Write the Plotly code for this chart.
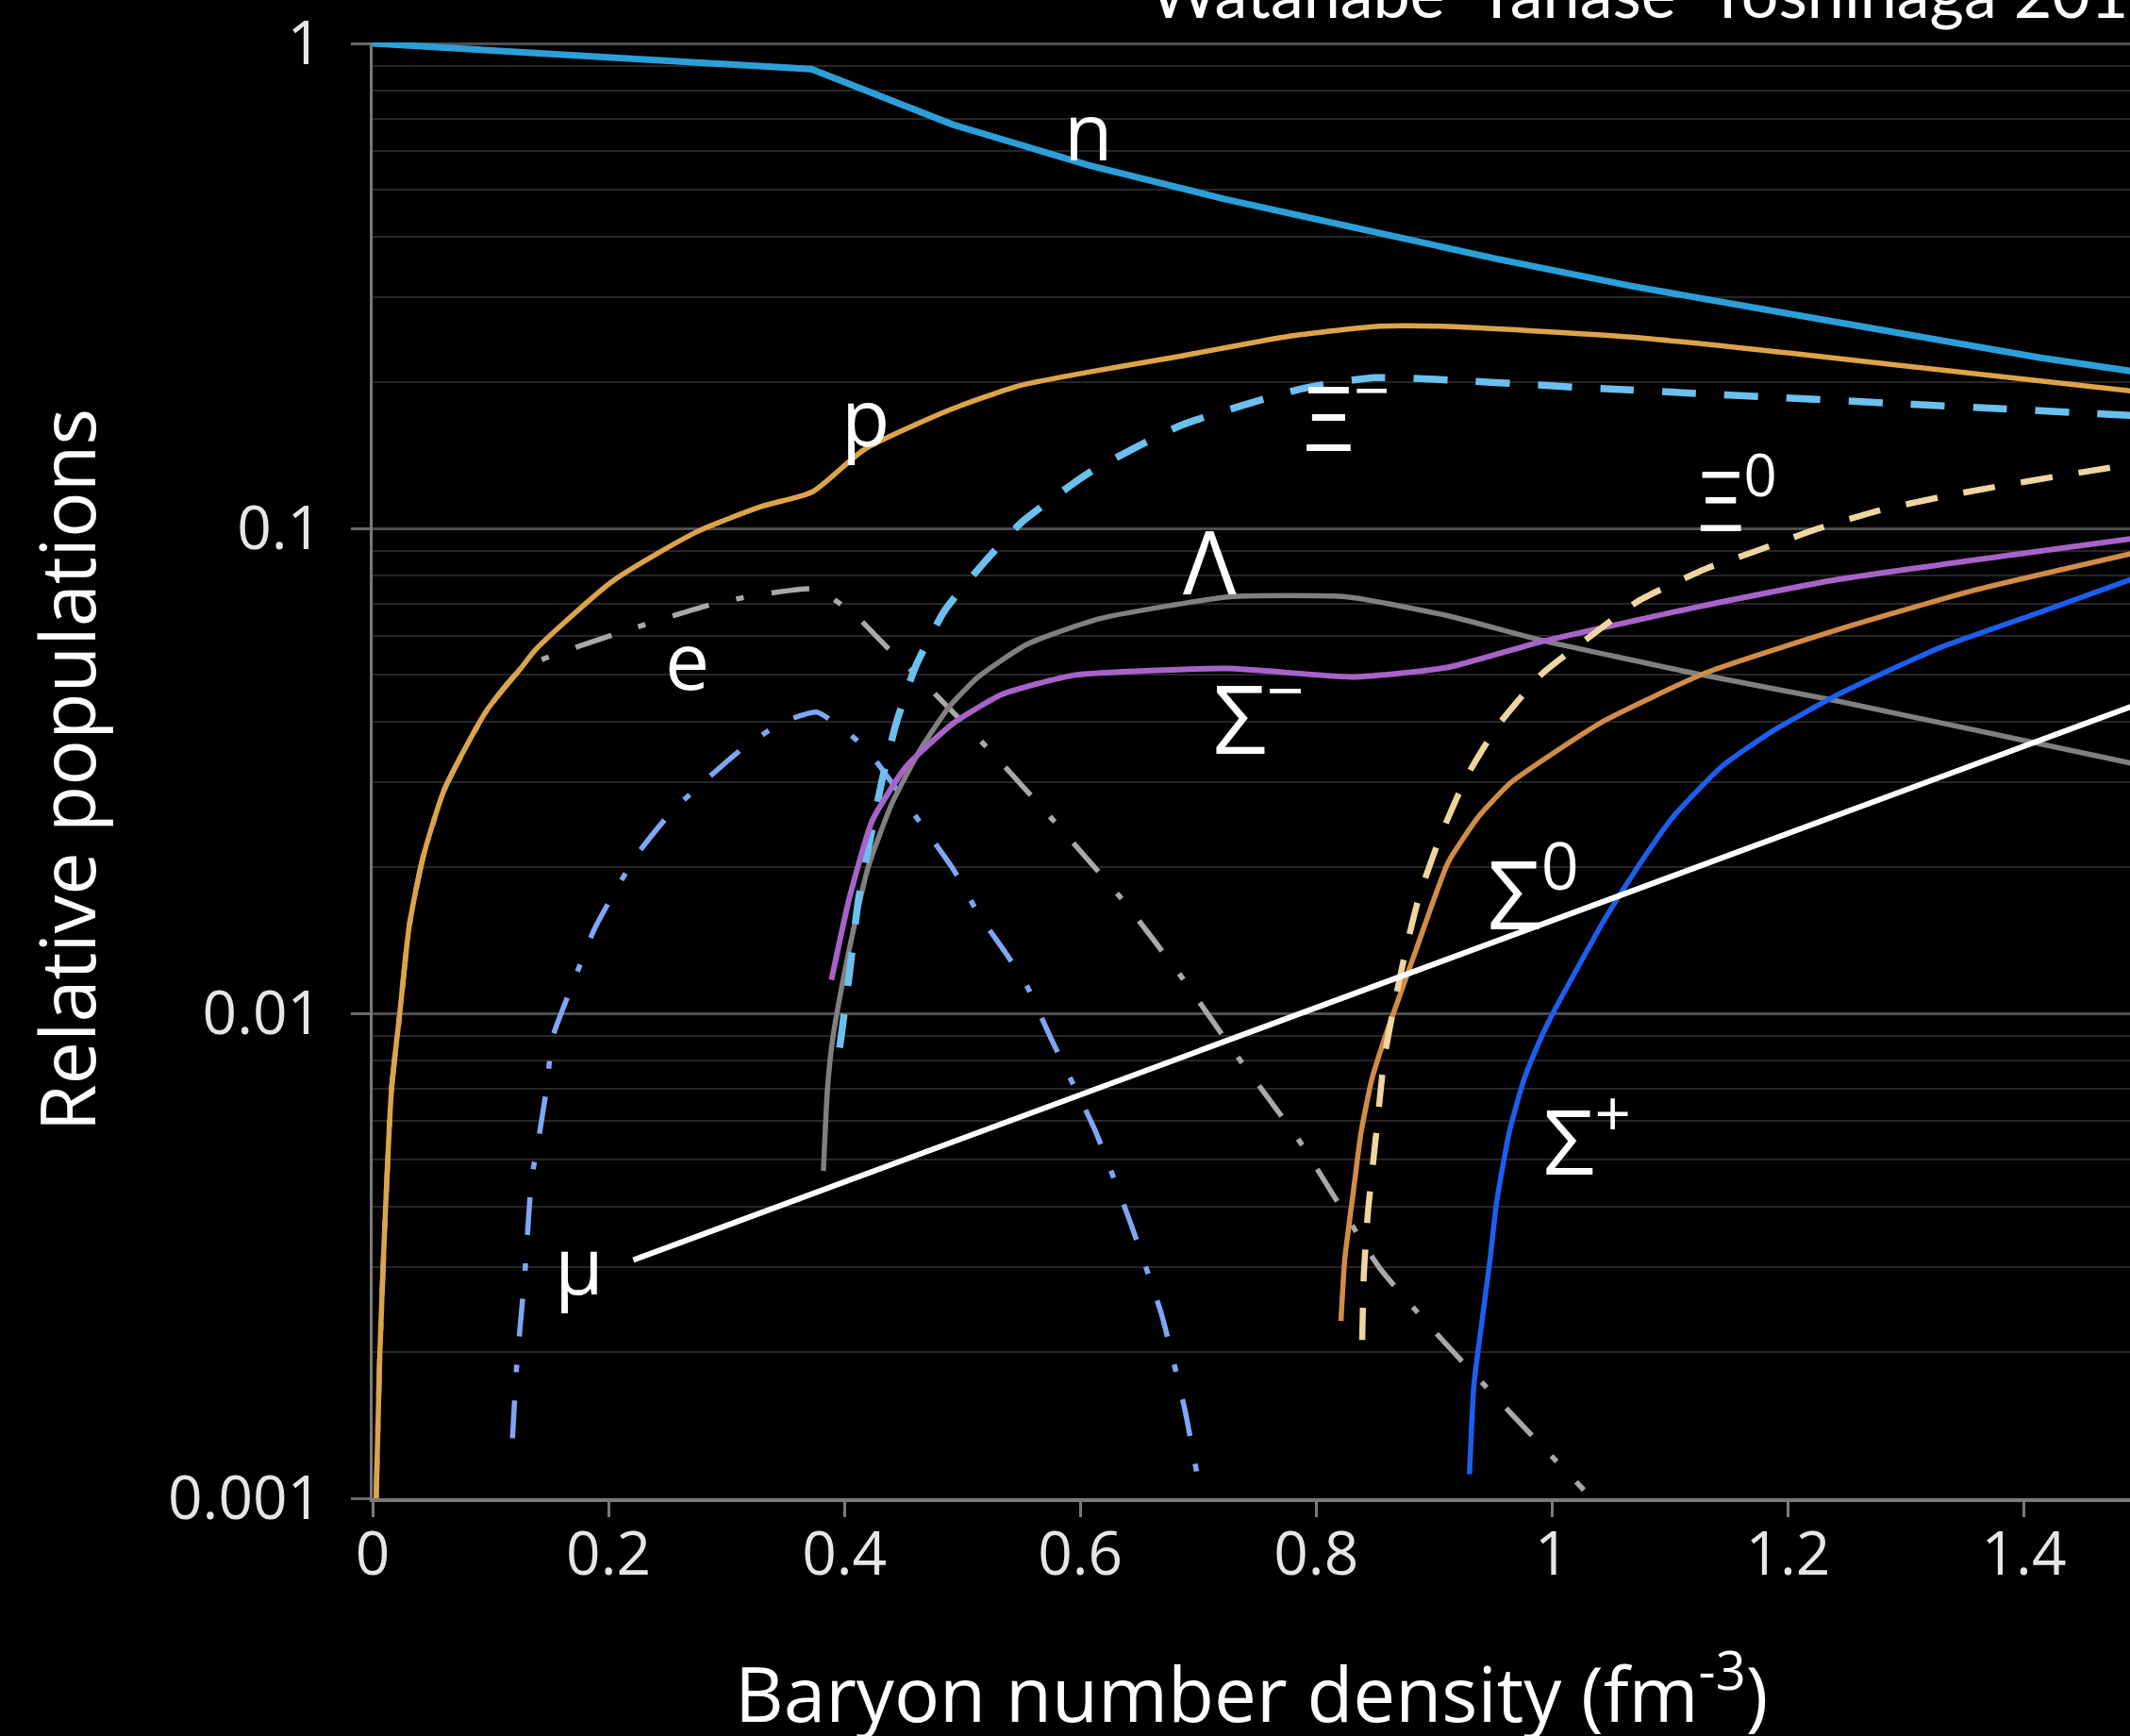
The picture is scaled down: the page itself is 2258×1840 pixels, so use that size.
import numpy as np
import plotly.graph_objects as go

# ---------------- data ----------------
n_x = [0.0, 0.372, 0.492, 0.607, 0.722, 0.837, 0.952, 1.067, 1.182, 1.297, 1.413, 1.491]
n_y = [1.0, 0.885, 0.680, 0.561, 0.478, 0.415, 0.360, 0.316, 0.282, 0.251, 0.225, 0.211]

p_x = [0.003, 0.006, 0.0104, 0.0161, 0.023, 0.031, 0.0426, 0.061, 0.0967, 0.1255, 0.139, 0.204,
       0.275, 0.330, 0.373, 0.417, 0.4916, 0.549, 0.607, 0.685, 0.779, 0.854, 0.906, 1.067, 1.2, 1.491]
p_y = [0.001, 0.00194, 0.00368, 0.0070, 0.00998, 0.0151, 0.0209, 0.029, 0.0421, 0.0514, 0.0565, 0.078,
       0.0984, 0.111, 0.119, 0.1455, 0.1764, 0.197, 0.210, 0.2266, 0.2495, 0.261, 0.261, 0.248, 0.23, 0.192]

xim_x = [0.396, 0.404, 0.412, 0.4225, 0.432, 0.444, 0.4605, 0.485, 0.518, 0.550, 0.607, 0.685,
         0.7875, 0.850, 1.045, 1.491]
xim_y = [0.00849, 0.01194, 0.0172, 0.0233, 0.0303, 0.0397, 0.052, 0.0677, 0.0848, 0.1028, 0.130, 0.163,
         0.194, 0.2045, 0.194, 0.171]

e_x = [0.003, 0.006, 0.0104, 0.0161, 0.023, 0.031, 0.0426, 0.061, 0.0967, 0.1266, 0.2038, 0.289,
       0.330, 0.375, 0.4076, 0.436, 0.467, 0.524, 0.581, 0.637, 0.687, 0.7345, 0.785, 0.854,
       0.907, 0.967, 1.027]
e_y = [0.001, 0.00194, 0.00368, 0.0070, 0.00998, 0.0151, 0.0209, 0.029, 0.0421, 0.0514, 0.0603, 0.0699,
       0.0731, 0.075, 0.0668, 0.0569, 0.0482, 0.0347, 0.0244, 0.0170, 0.01178, 0.00807, 0.00549, 0.00298,
       0.00212, 0.00148, 0.00104]

mu_x = [0.1186, 0.122, 0.129, 0.1347, 0.1416, 0.1485, 0.152, 0.170, 0.1877, 0.2038, 0.2245, 0.252,
        0.2775, 0.314, 0.3465, 0.3765, 0.412, 0.428, 0.466, 0.493, 0.5135, 0.5376, 0.555, 0.5756,
        0.6125, 0.642, 0.669, 0.6885, 0.699]
mu_y = [0.00133, 0.00185, 0.00289, 0.00453, 0.00567, 0.00728, 0.00883, 0.01156, 0.01486, 0.01756, 0.0213,
        0.0258, 0.02955, 0.0352, 0.0397, 0.0418, 0.0363, 0.0328, 0.0244, 0.0197, 0.01605, 0.01323,
        0.01135, 0.00883, 0.00574, 0.00373, 0.00239, 0.00153, 0.00112]

lam_x = [0.3822, 0.3857, 0.390, 0.3995, 0.4076, 0.420, 0.440, 0.465, 0.489, 0.5135, 0.555, 0.616,
         0.7253, 0.8266, 0.912, 0.991, 1.125, 1.243, 1.491]
lam_y = [0.00473, 0.0070, 0.00883, 0.01194, 0.01486, 0.01996, 0.0270, 0.0352, 0.0429, 0.0494, 0.0577,
         0.0651, 0.0722, 0.0722, 0.066, 0.0588, 0.0500, 0.044, 0.0328]

sigm_x = [0.389, 0.404, 0.4237, 0.4525, 0.4927, 0.534, 0.595, 0.7253, 0.831, 0.912, 0.991, 1.125,
          1.243, 1.491]
sigm_y = [0.01172, 0.0172, 0.0250, 0.0323, 0.0397, 0.0455, 0.0498, 0.0514, 0.0494, 0.0517, 0.0584,
          0.069, 0.0785, 0.0952]

xi0_x = [0.839, 0.8404, 0.8439, 0.851, 0.8577, 0.867, 0.877, 0.8877, 0.906, 0.928, 0.954, 0.991,
         1.034, 1.073, 1.1305, 1.173, 1.224, 1.278, 1.33, 1.380, 1.4345, 1.491]
xi0_y = [0.00212, 0.0029, 0.0039, 0.00567, 0.00807, 0.01064, 0.01385, 0.01756, 0.0234, 0.0309, 0.0392,
         0.0500, 0.0603, 0.0708, 0.0826, 0.0898, 0.0996, 0.109, 0.1161, 0.1223, 0.1288, 0.1355]

sig0_x = [0.821, 0.8243, 0.831, 0.838, 0.847, 0.8577, 0.8715, 0.885, 0.912, 0.938, 0.965, 1.005,
          1.045, 1.1305, 1.243, 1.3585, 1.491]
sig0_y = [0.00232, 0.00312, 0.00419, 0.00567, 0.00728, 0.00883, 0.01099, 0.01358, 0.0205, 0.0255,
          0.0299, 0.0349, 0.0402, 0.0504, 0.0619, 0.0746, 0.0887]

sigp_x = [0.930, 0.9337, 0.9406, 0.9475, 0.953, 0.9636, 0.976, 0.990, 1.0005, 1.021, 1.044, 1.073,
          1.102, 1.144, 1.187, 1.243, 1.33, 1.415, 1.491]
sigp_y = [0.00112, 0.00171, 0.00232, 0.00312, 0.00408, 0.00567, 0.00728, 0.00883, 0.00998, 0.01233,
          0.01554, 0.0201, 0.02532, 0.0323, 0.0382, 0.0455, 0.0569, 0.0673, 0.0785]

# pointer line drawn from the mu label
pointer_x = [0.221, 1.491]
pointer_y = [0.0031, 0.0429]

# curve labels
label_text = ["n", "p", "e", "μ", "Ξ<sup>−</sup>", "Ξ<sup>0</sup>", "Λ", "Σ<sup>−</sup>",
              "Σ<sup>0</sup>", "Σ<sup>+</sup>"]
label_x = [0.607, 0.418, 0.267, 0.175, 0.8255, 1.157, 0.710, 0.751, 0.984, 1.030]
label_y = [0.663, 0.171, 0.0537, 0.00305, 0.174, 0.117, 0.0859, 0.0418, 0.01813, 0.0056]
label_size = [84, 84, 84, 84, 96, 88, 94, 100, 100, 96]

y_tickvals = [0.001, 0.01, 0.1, 1]
y_ticktext = ["0.001", "0.01", "0.1", "1"]
x_tickvals = [0, 0.2, 0.4, 0.6, 0.8, 1.0, 1.2, 1.4]
x_ticktext = ["0", "0.2", "0.4", "0.6", "0.8", "1", "1.2", "1.4"]

FONT = "Open Sans"
DASHDOT = "40px,30px,8px,30px"

fig = go.Figure()

def add(x, y, color, width, dash="solid", shape="spline", smoothing=0.5):
    line = dict(color=color, width=width, dash=dash, shape=shape)
    if shape == "spline":
        line["smoothing"] = smoothing
    fig.add_trace(go.Scatter(x=x, y=y, mode="lines", line=line,
                             showlegend=False, hoverinfo="skip"))

add(mu_x, mu_y, "#7fa6f5", 5.5, DASHDOT)
add(e_x, e_y, "#a9a9a9", 5.5, DASHDOT)
add(lam_x, lam_y, "#808080", 5.5)
add(xim_x, xim_y, "#6cc0ee", 7.5, "36px,30px")
add(sigm_x, sigm_y, "#a763c8", 6)
add(sig0_x, sig0_y, "#d18c48", 5.5)
add(xi0_x, xi0_y, "#efd5a0", 6.5, "34px,28px")
add(sigp_x, sigp_y, "#1c5ff0", 5.5)
add(p_x, p_y, "#dca44a", 5.5, smoothing=0.6)
add(n_x, n_y, "#2c9fd8", 7, shape="linear")
fig.add_trace(go.Scatter(x=pointer_x, y=pointer_y, mode="lines",
                         line=dict(color="#ffffff", width=6),
                         showlegend=False, hoverinfo="skip"))

annotations = []
for t, lx, ly, sz in zip(label_text, label_x, label_y, label_size):
    annotations.append(dict(x=lx, y=float(np.log10(ly)), xref="x", yref="y", text=t,
                            showarrow=False, font=dict(family=FONT, size=sz, color="#ffffff"),
                            xanchor="center", yanchor="middle"))

# axis titles
annotations.append(dict(x=0.5, y=0, xref="paper", yref="paper", yanchor="middle", xanchor="center",
                        yshift=-201, showarrow=False,
                        text="Baryon number density (fm<sup>-3</sup>)",
                        font=dict(family=FONT, size=80, color="#ffffff")))
annotations.append(dict(x=0, y=0.5, xref="paper", yref="paper", xanchor="center", yanchor="middle",
                        xshift=-326, showarrow=False, textangle=-90,
                        text="Relative populations",
                        font=dict(family=FONT, size=81, color="#ffffff")))
# partially visible caption at the top
annotations.append(dict(x=0.441, y=1.006, xref="paper", yref="paper", xanchor="left", yanchor="bottom",
                        showarrow=False, text="Watanabe  Yanase  Yoshinaga 2012",
                        font=dict(family="Lato", size=70, color="#ffffff")))

minor_vals = [m * d for d in [0.001, 0.01, 0.1] for m in range(2, 10)]

fig.update_layout(
    width=2258, height=1840,
    paper_bgcolor="#000000", plot_bgcolor="#000000",
    margin=dict(l=395, r=0, t=40, b=252),
    annotations=annotations,
    xaxis=dict(range=[0, 1.49], showgrid=False, zeroline=False,
               tickvals=x_tickvals, ticktext=x_ticktext,
               ticks="outside", ticklen=16, tickwidth=3, tickcolor="#7a7a7a",
               showline=True, linecolor="#7a7a7a", linewidth=4,
               tickfont=dict(family=FONT, size=64, color="#e6e6e6"),
               ticklabelstandoff=-16, ticklabeloverflow="allow"),
    yaxis=dict(type="log", range=[-3, 0.002], zeroline=False,
               tickvals=y_tickvals, ticktext=y_ticktext,
               ticks="outside", ticklen=20, tickwidth=3, tickcolor="#6a6a6a",
               showline=True, linecolor="#7a7a7a", linewidth=3,
               showgrid=True, gridcolor="#4e4e4e", gridwidth=3,
               minor=dict(showgrid=True, tickvals=minor_vals, gridcolor="#262626", gridwidth=2,
                          ticks=""),
               tickfont=dict(family=FONT, size=64, color="#e6e6e6"),
               ticklabelstandoff=18, ticklabeloverflow="allow"),
)

fig.write_html("out.html",
               config={"displayModeBar": False},
               post_script="document.body.style.margin='0';document.body.style.padding='0';"
                           "document.body.style.background='#000';"
                           "document.documentElement.style.background='#000';")
